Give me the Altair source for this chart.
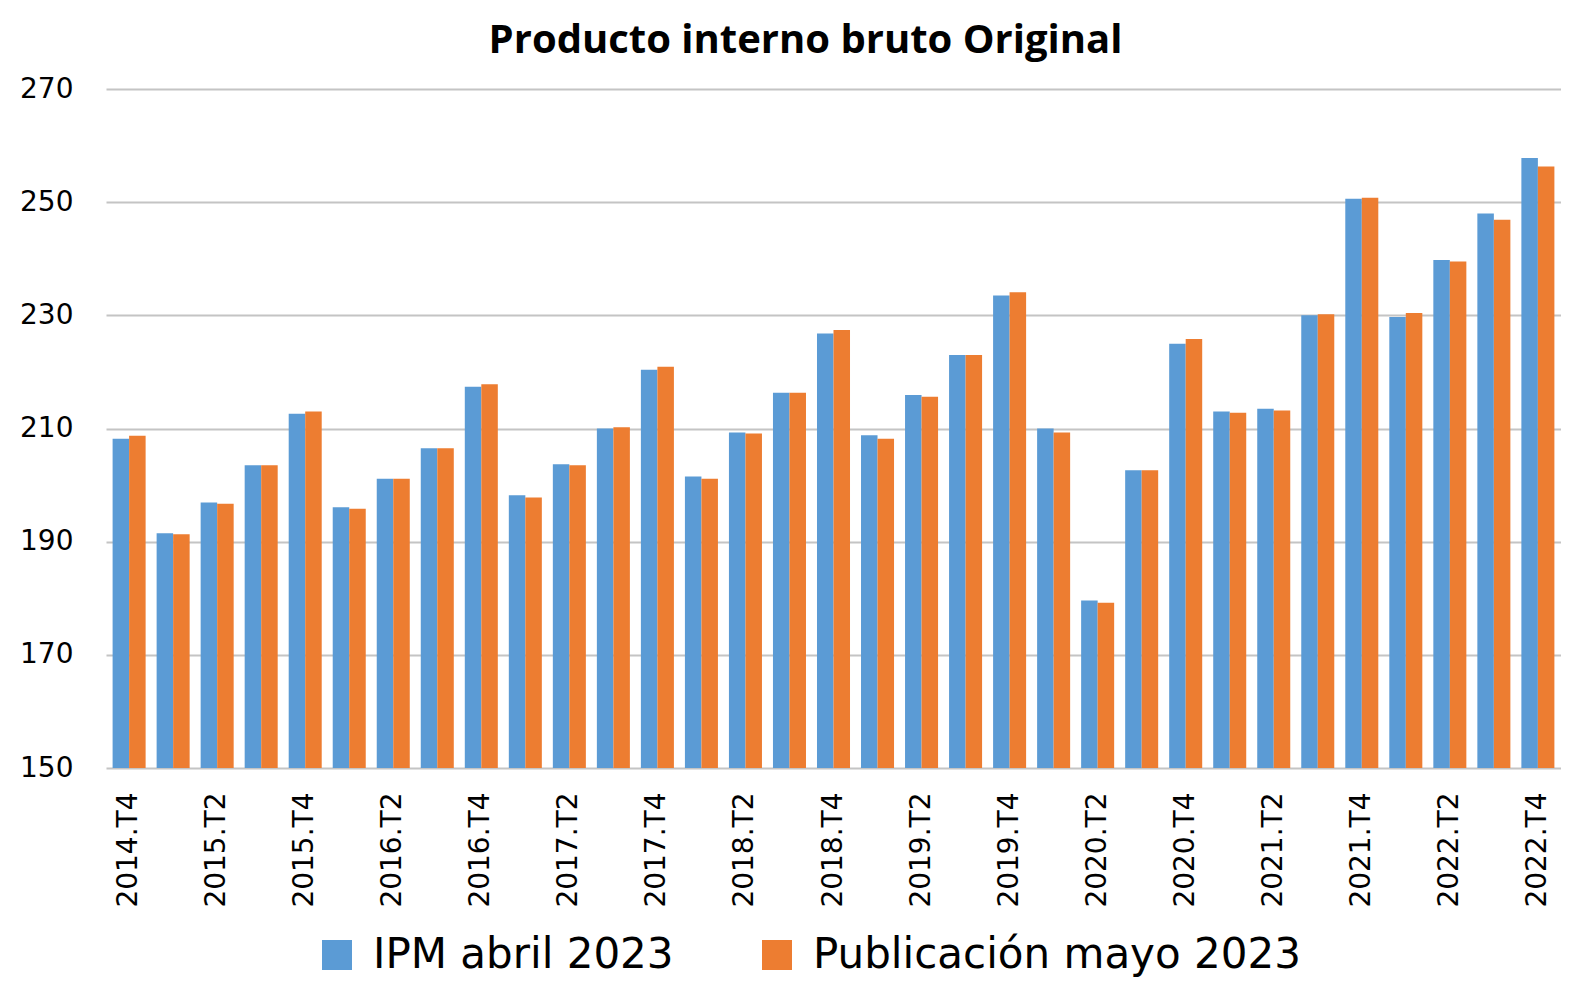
import altair as alt
import pandas as pd

quarters = [
    "2014.T4",
    "2015.T1", "2015.T2", "2015.T3", "2015.T4",
    "2016.T1", "2016.T2", "2016.T3", "2016.T4",
    "2017.T1", "2017.T2", "2017.T3", "2017.T4",
    "2018.T1", "2018.T2", "2018.T3", "2018.T4",
    "2019.T1", "2019.T2", "2019.T3", "2019.T4",
    "2020.T1", "2020.T2", "2020.T3", "2020.T4",
    "2021.T1", "2021.T2", "2021.T3", "2021.T4",
    "2022.T1", "2022.T2", "2022.T3", "2022.T4",
]

ipm_abril_2023 = [
    208.2,
    191.5, 196.9, 203.5, 212.6,
    196.1, 201.1, 206.5, 217.4,
    198.2, 203.7, 210.0, 220.4,
    201.5, 209.3, 216.3, 226.8,
    208.8, 215.9, 223.0, 233.5,
    210.0, 179.6, 202.6, 225.0,
    213.0, 213.5, 230.0, 250.6,
    229.7, 239.8, 248.0, 257.8,
]

publicacion_mayo_2023 = [
    208.7,
    191.3, 196.7, 203.5, 213.0,
    195.8, 201.1, 206.5, 217.8,
    197.8, 203.5, 210.2, 220.9,
    201.1, 209.1, 216.3, 227.4,
    208.2, 215.6, 223.0, 234.1,
    209.3, 179.2, 202.6, 225.8,
    212.8, 213.2, 230.2, 250.8,
    230.4, 239.5, 246.9, 256.3,
]

series_names = ["IPM abril 2023", "Publicación mayo 2023"]
series_colors = ["#5B9BD5", "#ED7D31"]
y_ticks = [150, 170, 190, 210, 230, 250, 270]
x_label_values = quarters[::2]

rows = []
for q, a, b in zip(quarters, ipm_abril_2023, publicacion_mayo_2023):
    rows.append({"trimestre": q, "serie": series_names[0], "valor": a})
    rows.append({"trimestre": q, "serie": series_names[1], "valor": b})
df = pd.DataFrame(rows)

chart = (
    alt.Chart(df)
    .mark_bar(clip=True)
    .encode(
        x=alt.X(
            "trimestre:N",
            sort=quarters,
            scale=alt.Scale(paddingInner=0.25, paddingOuter=0.15),
            axis=alt.Axis(
                title=None,
                values=x_label_values,
                labelAngle=-90,
                labelFont="DejaVu Sans",
                labelFontSize=28,
                labelColor="#000000",
                labelPadding=24,
                labelOverlap=False,
                ticks=False,
                domain=False,
                grid=False,
            ),
        ),
        xOffset=alt.XOffset(
            "serie:N",
            sort=series_names,
            scale=alt.Scale(paddingInner=0, paddingOuter=0),
        ),
        y=alt.Y(
            "valor:Q",
            scale=alt.Scale(domain=[150, 270], zero=False, nice=False),
            axis=alt.Axis(
                title=None,
                values=y_ticks,
                labelFont="DejaVu Sans",
                labelFontSize=28,
                labelColor="#000000",
                labelPadding=33,
                ticks=False,
                domain=False,
                grid=True,
                gridColor="#C4C4C4",
                gridWidth=2,
            ),
        ),
        color=alt.Color(
            "serie:N",
            sort=series_names,
            scale=alt.Scale(domain=series_names, range=series_colors),
            legend=alt.Legend(
                title=None,
                orient="none",
                legendX=210,
                legendY=845,
                direction="horizontal",
                symbolType="square",
                symbolSize=900,
                symbolStrokeWidth=0,
                symbolOpacity=1,
                labelFont="DejaVu Sans",
                labelFontSize=42,
                labelColor="#000000",
                labelLimit=800,
                labelOffset=15,
                columnPadding=82,
            ),
        ),
    )
    .properties(
        width=1455,
        height=679,
        padding={"left": 11, "top": 13, "right": 0, "bottom": 6},
        title=alt.Title(
            "Producto interno bruto Original",
            font="Open Sans",
            fontSize=40,
            fontWeight="bold",
            color="#000000",
            offset=14,
            anchor="middle",
            dx=-28,
        ),
    )
    .configure_view(stroke=None)
)

chart.save("out.html", embed_options={"renderer": "svg", "actions": False})
